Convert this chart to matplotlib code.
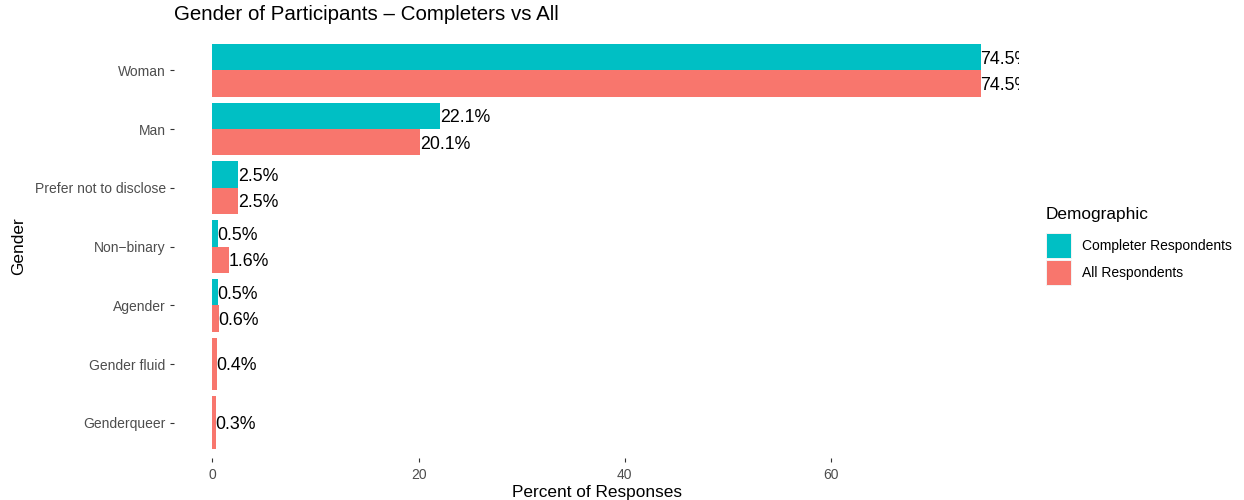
import numpy as np
import matplotlib
matplotlib.use('Agg')
import matplotlib.pyplot as plt
from matplotlib.patches import Rectangle

plt.rcParams['font.family'] = ['Liberation Sans', 'DejaVu Sans']

genders = ['Woman', 'Man', 'Prefer not to disclose', 'Non\u2212binary', 'Agender',
           'Gender fluid', 'Genderqueer']
completer = [74.5, 22.1, 2.5, 0.5, 0.5, None, None]
all_resp = [74.5, 20.1, 2.5, 1.6, 0.6, 0.4, 0.3]
series_names = ['Completer Respondents', 'All Respondents']
teal = '#00BFC4'
salmon = '#F8766D'

W, H = 1244, 500
fig = plt.figure(figsize=(W/100, H/100), dpi=100)
ax = fig.add_axes([174/W, 42/H, (1019-174)/W, (458-35)/H])

n = len(genders)
ypos = np.arange(n)[::-1] + 1  # Woman at top
width = 0.9
lab_fs = 12.8

xmax = 74.5
for y, c, a in zip(ypos, completer, all_resp):
    if c is None:
        ax.barh(y, a, height=width, color=salmon)
        ax.text(a, y, f'{a:.1f}%', va='center_baseline', ha='left', fontsize=lab_fs, clip_on=True)
    else:
        ax.barh(y + width/4, c, height=width/2, color=teal)
        ax.barh(y - width/4, a, height=width/2, color=salmon)
        ax.text(c, y + width/4, f'{c:.1f}%', va='center_baseline', ha='left', fontsize=lab_fs, clip_on=True)
        ax.text(a, y - width/4, f'{a:.1f}%', va='center_baseline', ha='left', fontsize=lab_fs, clip_on=True)

ax.set_xlim(-0.05*xmax, xmax*1.05)
ax.set_ylim(0.4, n + 0.6)
ax.set_yticks(ypos)
ax.set_yticklabels(genders)
ax.set_xticks([0, 20, 40, 60])
for s in ax.spines.values():
    s.set_visible(False)
ax.tick_params(axis='both', colors='#333333', labelcolor='#4D4D4D', labelsize=10,
               length=3, width=0.8)
ax.tick_params(axis='x', pad=4)
ax.tick_params(axis='y', pad=3)

ax.set_xlabel('Percent of Responses', fontsize=12.4, labelpad=2)
ax.set_ylabel('Gender', fontsize=12.4, labelpad=6)
ax.set_title('Gender of Participants \u2013 Completers vs All', fontsize=14.8,
             loc='left', pad=10.5)

# legend drawn by hand, ggplot style
fig.text(1046/W, 1 - 215/H, 'Demographic', fontsize=12.4, va='center', ha='left')
key_tops = [233, 260]
for top, col, name in zip(key_tops, [teal, salmon], series_names):
    fig.add_artist(Rectangle((1046/W, 1 - (top + 26)/H), 26/W, 26/H,
                             facecolor='#F2F2F2', edgecolor='none'))
    fig.add_artist(Rectangle((1047/W, 1 - (top + 25)/H), 24/W, 24/H,
                             facecolor=col, edgecolor='none'))
    fig.text(1082/W, 1 - (top + 13)/H, name, fontsize=10, va='center', ha='left')

fig.savefig('out.png', dpi=100)
